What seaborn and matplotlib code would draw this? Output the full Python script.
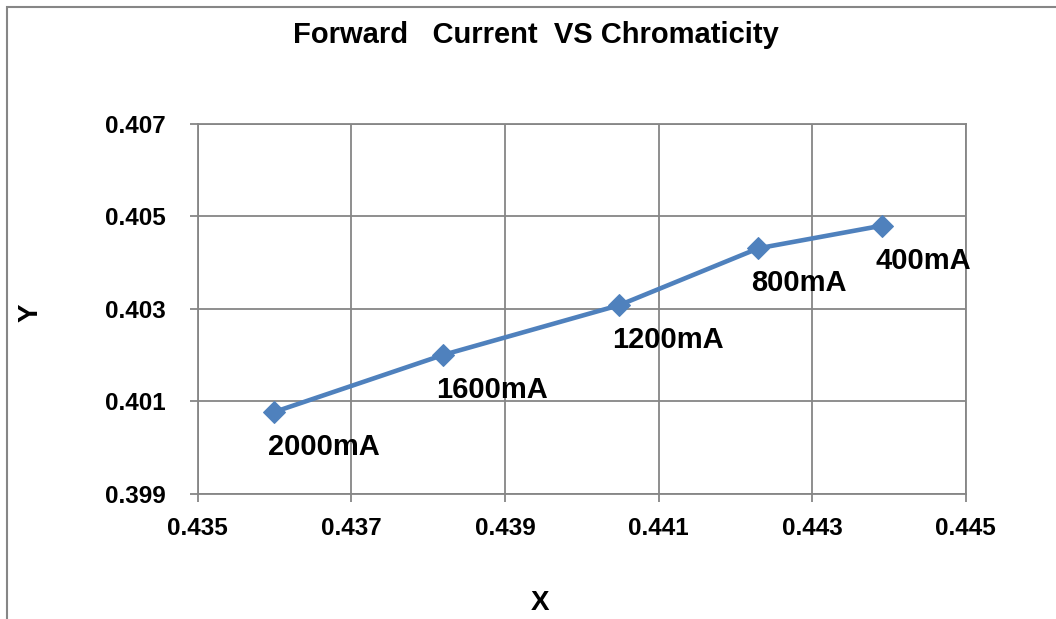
import matplotlib
matplotlib.use("Agg")
import matplotlib.pyplot as plt
import seaborn as sns
import pandas as pd
from matplotlib.patches import Rectangle

# values
chroma_x = [0.4360, 0.43819, 0.44049, 0.4423, 0.44391]
chroma_y = [0.40077, 0.40200, 0.40308, 0.40431, 0.40480]
current_labels = ['2000mA', '1600mA', '1200mA', '800mA', '400mA']
x_ticks = [0.435, 0.437, 0.439, 0.441, 0.443, 0.445]
y_ticks = [0.399, 0.401, 0.403, 0.405, 0.407]

df = pd.DataFrame({'x': chroma_x, 'y': chroma_y, 'label': current_labels})

sns.set_theme(style="whitegrid")
plt.rcParams['font.family'] = ['Liberation Sans', 'DejaVu Sans']
plt.rcParams['text.color'] = 'black'
plt.rcParams['xtick.labelcolor'] = 'black'
plt.rcParams['ytick.labelcolor'] = 'black'

grid_col = '#868686'
line_col = '#4F81BD'

fig = plt.figure(figsize=(10.56, 6.19), dpi=100)
fig.patch.set_facecolor('white')
ax = fig.add_axes([0.1872, 0.2024, 0.7273, 0.5973])
ax.set_facecolor('white')

sns.lineplot(x='x', y='y', data=df, ax=ax, sort=False, color=line_col,
             linewidth=3.3, marker='D', markersize=11, markeredgecolor=line_col)

# data labels below-right of each point
for row in df.itertuples():
    ax.annotate(row.label, (row.x, row.y), xytext=(-5, -31), textcoords='offset points',
                ha='left', va='baseline', fontsize=21, fontweight='bold', color='black')

ax.set_xlim(0.435, 0.445)
ax.set_ylim(0.399, 0.407)
ax.set_xticks(x_ticks)
ax.set_yticks(y_ticks)
ax.set_xticklabels([f"{v:.3f}" for v in x_ticks])
ax.set_yticklabels([f"{v:.3f}" for v in y_ticks])
ax.tick_params(axis='both', labelsize=17.5, length=6, width=1.3, color=grid_col,
               direction='out', labelcolor='black')
ax.tick_params(axis='x', pad=11)
ax.tick_params(axis='y', pad=17)
ax.tick_params(axis='both', which='both', left=True, bottom=True)
for lbl in ax.get_xticklabels() + ax.get_yticklabels():
    lbl.set_fontweight('bold')
    lbl.set_color('black')

ax.grid(True, color=grid_col, linewidth=1.3)
for side, sp in ax.spines.items():
    sp.set_color(grid_col)
    sp.set_linewidth(1.3)

ax.set_xlabel('')
ax.set_ylabel('')
fig.text(0.511, 0.026, 'X', fontsize=20, fontweight='bold', ha='center', va='center', color='black')
fig.text(0.029, 0.494, 'Y', fontsize=20, fontweight='bold', ha='center', va='center',
         rotation=90, color='black')
fig.text(0.5076, 0.9435, 'Forward   Current  VS Chromaticity', fontsize=21,
         fontweight='bold', ha='center', va='center', color='black')

# outer chart border (only left/top edges fall inside the image)
fig.patches.append(Rectangle((7 / 1056, -0.1), 1.2, 1.1 - 7 / 619,
                             transform=fig.transFigure, fill=False,
                             edgecolor=grid_col, linewidth=1.5))

fig.savefig('out.png', dpi=100)
